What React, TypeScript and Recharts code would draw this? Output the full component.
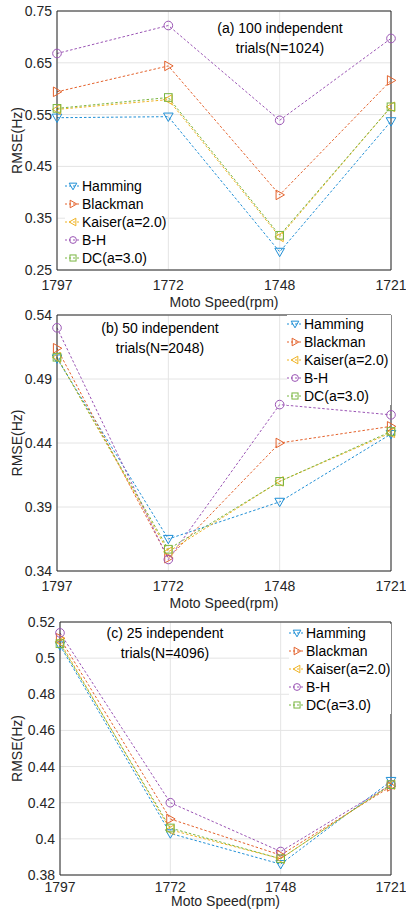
import React from "react"
import { LineChart, Line, XAxis, YAxis, CartesianGrid, ReferenceLine, Label } from "recharts"

const speeds = ["1797", "1772", "1748", "1721"]

const seriesNames = ["Hamming", "Blackman", "Kaiser(a=2.0)", "B-H", "DC(a=3.0)"]
const seriesKeys = ["hamming", "blackman", "kaiser", "bh", "dc"]
const seriesColors = ["#1f8fd6", "#e4622c", "#efb324", "#9b55b5", "#7ab642"]
const seriesShapes = ["down", "right", "left", "circle", "square"]

// (a) 100 trials, N=1024
const aHamming = [0.544, 0.546, 0.285, 0.537]
const aBlackman = [0.594, 0.644, 0.395, 0.616]
const aKaiser = [0.56, 0.579, 0.314, 0.565]
const aBH = [0.668, 0.722, 0.539, 0.697]
const aDC = [0.562, 0.583, 0.317, 0.565]
const aTicks = [0.25, 0.35, 0.45, 0.55, 0.65, 0.75]

// (b) 50 trials, N=2048
const bHamming = [0.506, 0.365, 0.394, 0.447]
const bBlackman = [0.514, 0.35, 0.44, 0.453]
const bKaiser = [0.507, 0.355, 0.41, 0.448]
const bBH = [0.53, 0.349, 0.47, 0.462]
const bDC = [0.507, 0.357, 0.41, 0.449]
const bTicks = [0.34, 0.39, 0.44, 0.49, 0.54]

// (c) 25 trials, N=4096
const cHamming = [0.507, 0.403, 0.386, 0.432]
const cBlackman = [0.511, 0.411, 0.391, 0.429]
const cKaiser = [0.509, 0.405, 0.389, 0.43]
const cBH = [0.514, 0.42, 0.393, 0.43]
const cDC = [0.508, 0.406, 0.389, 0.43]
const cTicks = [0.38, 0.4, 0.42, 0.44, 0.46, 0.48, 0.5, 0.52]

const FONT = "'Liberation Sans', Arial, Helvetica, sans-serif"
const AXIS = "#262626"

function buildRows(cols: number[][]) {
  return speeds.map((s, i) => {
    const row: any = { x: i, speed: s }
    seriesKeys.forEach((k, j) => (row[k] = cols[j][i]))
    return row
  })
}

function Marker({ cx, cy, shape, color, s = 4.8 }: any) {
  const common = { fill: "none", stroke: color, strokeWidth: 1 }
  if (shape === "down")
    return <polygon {...common} points={`${cx - s},${cy - s * 0.75} ${cx + s},${cy - s * 0.75} ${cx},${cy + s}`} />
  if (shape === "right")
    return <polygon {...common} points={`${cx - s * 0.75},${cy - s} ${cx - s * 0.75},${cy + s} ${cx + s},${cy}`} />
  if (shape === "left")
    return <polygon {...common} points={`${cx + s * 0.75},${cy - s} ${cx + s * 0.75},${cy + s} ${cx - s},${cy}`} />
  if (shape === "circle") return <circle {...common} cx={cx} cy={cy} r={s * 0.9} />
  return <rect {...common} x={cx - s * 0.8} y={cy - s * 0.8} width={s * 1.6} height={s * 1.6} />
}

function LegendBox({ left, top, width }: any) {
  return (
    <div style={{ position: "absolute", left, top, width, background: "#fff", fontFamily: FONT, fontSize: 14, color: "#000" }}>
      {seriesNames.map((n, i) => (
        <div key={n} style={{ height: 18, display: "flex", alignItems: "center" }}>
          <svg width={16} height={18} style={{ flex: "none" }}>
            <line x1={0} y1={9} x2={16} y2={9} stroke={seriesColors[i]} strokeDasharray="2 2" />
            <Marker cx={8} cy={9} shape={seriesShapes[i]} color={seriesColors[i]} s={3.8} />
          </svg>
          <span style={{ marginLeft: 1, whiteSpace: "nowrap" }}>{n}</span>
        </div>
      ))}
    </div>
  )
}

function Panel({ top, height, marginTop, yWidth, cols, ticks, note, noteX, legend, xTickMargin, xLabelOffset }: any) {
  const rows = buildRows(cols)
  const lo = ticks[0]
  const hi = ticks[ticks.length - 1]
  const plotBottom = height - 40
  const yMid = (marginTop + plotBottom) / 2
  return (
    <div style={{ position: "absolute", left: 0, top, width: 406, height }}>
      <LineChart width={406} height={height} data={rows} margin={{ top: marginTop, right: 15, left: 0, bottom: 0 }}>
        <CartesianGrid stroke="#e4e4e4" />
        <XAxis
          dataKey="x"
          type="number"
          domain={[0, 3]}
          ticks={[0, 1, 2, 3]}
          tickFormatter={(v: number) => speeds[v]}
          height={40}
          tickLine={false}
          tickMargin={xTickMargin}
          stroke={AXIS}
          tick={{ fill: AXIS, fontSize: 14, fontFamily: FONT }}
        >
          <Label value="Moto Speed(rpm)" position="insideBottom" offset={xLabelOffset} fill={AXIS} fontSize={14} fontFamily={FONT} />
        </XAxis>
        <YAxis
          type="number"
          domain={[lo, hi]}
          ticks={ticks}
          width={yWidth}
          tickLine={false}
          tickSize={4}
          tickMargin={1}
          stroke={AXIS}
          allowDataOverflow
          tickFormatter={(v: number) => String(Number(v.toFixed(2)))}
          tick={{ fill: AXIS, fontSize: 14, fontFamily: FONT }}
        >
          <Label
            content={() => (
              <text
                x={17}
                y={yMid}
                transform={`rotate(-90 17 ${yMid})`}
                textAnchor="middle"
                dominantBaseline="central"
                fill={AXIS}
                fontSize={14}
                fontFamily={FONT}
              >
                RMSE(Hz)
              </text>
            )}
          />
        </YAxis>
        <ReferenceLine y={hi} stroke={AXIS} />
        <ReferenceLine x={3} stroke={AXIS} />
        {seriesKeys.map((k, i) => (
          <Line
            key={k}
            dataKey={k}
            type="linear"
            stroke={seriesColors[i]}
            strokeWidth={1}
            strokeDasharray="2.5 2"
            isAnimationActive={false}
            dot={(p: any) => <Marker key={`${k}-${p.index}`} cx={p.cx} cy={p.cy} shape={seriesShapes[i]} color={seriesColors[i]} />}
            activeDot={false}
          />
        ))}
      </LineChart>
      <div
        style={{
          position: "absolute",
          left: noteX - 80,
          top: note.top,
          width: 160,
          textAlign: "center",
          fontFamily: FONT,
          fontSize: 14,
          lineHeight: "20px",
          color: "#000",
        }}
      >
        {note.lines.map((l: string) => (
          <div key={l}>{l}</div>
        ))}
      </div>
      <LegendBox {...legend} />
    </div>
  )
}

export default function App() {
  return (
    <div style={{ position: "absolute", left: 0, top: 0, width: 406, height: 911, overflow: "hidden", background: "#fff" }}>
      <Panel
        top={0}
        height={310}
        marginTop={11}
        yWidth={57}
        cols={[aHamming, aBlackman, aKaiser, aBH, aDC]}
        ticks={aTicks}
        note={{ top: 18, lines: ["(a) 100 independent", "trials(N=1024)"] }}
        noteX={280}
        legend={{ left: 65, top: 177, width: 100 }}
        xTickMargin={4}
        xLabelOffset={3}
      />
      <Panel
        top={300}
        height={311}
        marginTop={15}
        yWidth={57}
        cols={[bHamming, bBlackman, bKaiser, bBH, bDC]}
        ticks={bTicks}
        note={{ top: 18, lines: ["(b) 50 independent", "trials(N=2048)"] }}
        noteX={160}
        legend={{ left: 287, top: 15, width: 104 }}
        xTickMargin={4}
        xLabelOffset={3}
      />
      <Panel
        top={600}
        height={315}
        marginTop={22}
        yWidth={60}
        cols={[cHamming, cBlackman, cKaiser, cBH, cDC]}
        ticks={cTicks}
        note={{ top: 23, lines: ["(c) 25 independent", "trials(N=4096)"] }}
        noteX={165}
        legend={{ left: 289, top: 24, width: 102 }}
        xTickMargin={1}
        xLabelOffset={9}
      />
    </div>
  )
}
